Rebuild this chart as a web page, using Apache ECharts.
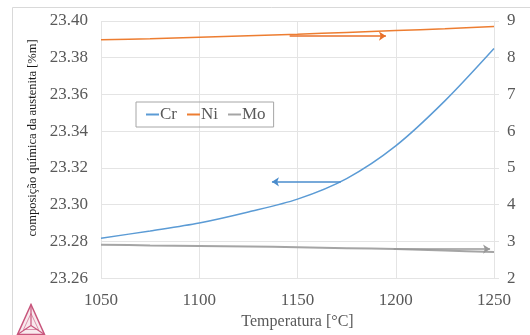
<!DOCTYPE html>
<html>
<head>
<meta charset="utf-8">
<script src="https://cdn.jsdelivr.net/npm/echarts@6/dist/echarts.min.js"></script>
<style>
  html, body { margin: 0; padding: 0; background: #fff; }
  #chart { width: 530px; height: 335px; }
</style>
</head>
<body>
<div id="chart"></div>
<script>
// temperaturas [°C]
var temps = [1050, 1075, 1100, 1125, 1150, 1175, 1200, 1225, 1250];
// Cr (eixo esquerdo)
var crVals = [23.2817, 23.2857, 23.2900, 23.2960, 23.3030, 23.3142, 23.3320, 23.3565, 23.3850];
// Ni e Mo (eixo direito)
var niVals = [8.49, 8.52, 8.56, 8.60, 8.64, 8.69, 8.74, 8.79, 8.85];
var moVals = [2.91, 2.89, 2.875, 2.86, 2.84, 2.815, 2.79, 2.75, 2.71];
// setas indicando o eixo de cada curva: [x inicio, x fim, y]
var niArrow = [1146, 1195, 8.59];
var crArrow = [1172, 1137, 23.3124];
var moArrow = [1199, 1248, 2.79];

var serif = '"Liberation Serif", "DejaVu Serif", serif';
var labelColor = '#595959';
var gridColor = '#e4e4e4';

function pairs(xs, ys) {
  return xs.map(function(x, i) { return [x, ys[i]]; });
}

function arrow(a, color) {
  return {
    silent: true,
    symbol: ['none', 'arrow'],
    symbolSize: 7,
    label: { show: false },
    lineStyle: { color: color, width: 1.5, type: 'solid' },
    itemStyle: { color: color },
    data: [[{ coord: [a[0], a[2]] }, { coord: [a[1], a[2]] }]]
  };
}

var chart = echarts.init(document.getElementById('chart'), null, { renderer: 'canvas' });

var option = {
  animation: false,
  backgroundColor: '#fff',
  grid: { left: 101, right: 36, top: 21, bottom: 52 },
  legend: {
    left: 136,
    top: 102,
    itemWidth: 13,
    itemHeight: 2,
    itemGap: 10,
    icon: 'rect',
    padding: [4, 8, 4, 10],
    borderColor: '#a6a6a6',
    borderWidth: 1,
    textStyle: { fontFamily: serif, fontSize: 17, color: labelColor, padding: [0, 0, 0, -4] },
    data: ['Cr', 'Ni', 'Mo']
  },
  xAxis: {
    type: 'value',
    min: 1050,
    max: 1250,
    interval: 50,
    name: 'Temperatura [°C]',
    nameLocation: 'middle',
    nameGap: 35,
    nameTextStyle: { fontFamily: serif, fontSize: 16, color: labelColor },
    axisLine: { show: false },
    axisTick: { show: false },
    axisLabel: {
      fontFamily: serif, fontSize: 17, color: labelColor, margin: 14,
      formatter: function(v) { return String(v); }
    },
    splitLine: { show: true, lineStyle: { color: gridColor, width: 1 } }
  },
  yAxis: [
    {
      type: 'value',
      min: 23.26,
      max: 23.40,
      interval: 0.02,
      axisLine: { show: false },
      axisTick: { show: false },
      axisLabel: {
        fontFamily: serif, fontSize: 17, color: labelColor, margin: 13,
        formatter: function(v) { return v.toFixed(2); }
      },
      splitLine: { show: true, lineStyle: { color: gridColor, width: 1 } }
    },
    {
      type: 'value',
      min: 2,
      max: 9,
      interval: 1,
      position: 'right',
      axisLine: { show: true, lineStyle: { color: gridColor } },
      axisTick: { show: true, length: 5, lineStyle: { color: gridColor } },
      axisLabel: { fontFamily: serif, fontSize: 17, color: labelColor, margin: 13 },
      splitLine: { show: false }
    }
  ],
  series: [
    {
      name: 'Cr',
      type: 'line',
      yAxisIndex: 0,
      smooth: 0.3,
      showSymbol: false,
      data: pairs(temps, crVals),
      color: '#5b9bd5',
      lineStyle: { color: '#5b9bd5', width: 1.5 },
      markLine: arrow(crArrow, '#4a8ccc'),
      z: 3
    },
    {
      name: 'Ni',
      type: 'line',
      yAxisIndex: 1,
      smooth: 0.3,
      showSymbol: false,
      data: pairs(temps, niVals),
      color: '#ed7d31',
      lineStyle: { color: '#ed7d31', width: 1.5 },
      markLine: arrow(niArrow, '#e8702a'),
      z: 3
    },
    {
      name: 'Mo',
      type: 'line',
      yAxisIndex: 1,
      smooth: 0.3,
      showSymbol: false,
      data: pairs(temps, moVals),
      color: '#a5a5a5',
      lineStyle: { color: '#a5a5a5', width: 2 },
      markLine: arrow(moArrow, '#999999'),
      z: 2
    }
  ],
  graphic: [
    // moldura da área do gráfico
    {
      type: 'rect',
      shape: { x: 12.5, y: 7.5, width: 530, height: 340 },
      style: { fill: 'none', stroke: '#d9d9d9', lineWidth: 1 },
      silent: true
    },
    // título do eixo esquerdo
    {
      type: 'text',
      x: 33,
      y: 138,
      rotation: Math.PI / 2,
      style: {
        text: 'composição química da austenita [%m]',
        fontFamily: serif,
        fontSize: 12.5,
        fill: '#1a1a1a',
        align: 'center',
        verticalAlign: 'middle'
      }
    },
    // logotipo (triângulo)
    {
      type: 'group',
      left: 15,
      top: 302,
      children: [
        {
          type: 'polygon',
          shape: { points: [[13.5, 0], [0, 30], [27, 30]] },
          style: { fill: 'rgba(200,70,110,0.12)', stroke: '#c8557c', lineWidth: 1.5 }
        },
        {
          type: 'polyline',
          shape: { points: [[13.5, 0], [13.5, 21], [0, 30]] },
          style: { fill: 'none', stroke: '#c8557c', lineWidth: 1.2 }
        },
        {
          type: 'polyline',
          shape: { points: [[13.5, 21], [27, 30]] },
          style: { fill: 'none', stroke: '#c8557c', lineWidth: 1.2 }
        },
        {
          type: 'polygon',
          shape: { points: [[13.5, 9], [6, 25], [21, 25]] },
          style: { fill: 'none', stroke: 'rgba(200,85,124,0.6)', lineWidth: 1 }
        }
      ]
    }
  ]
};

chart.setOption(option);
</script>
</body>
</html>
